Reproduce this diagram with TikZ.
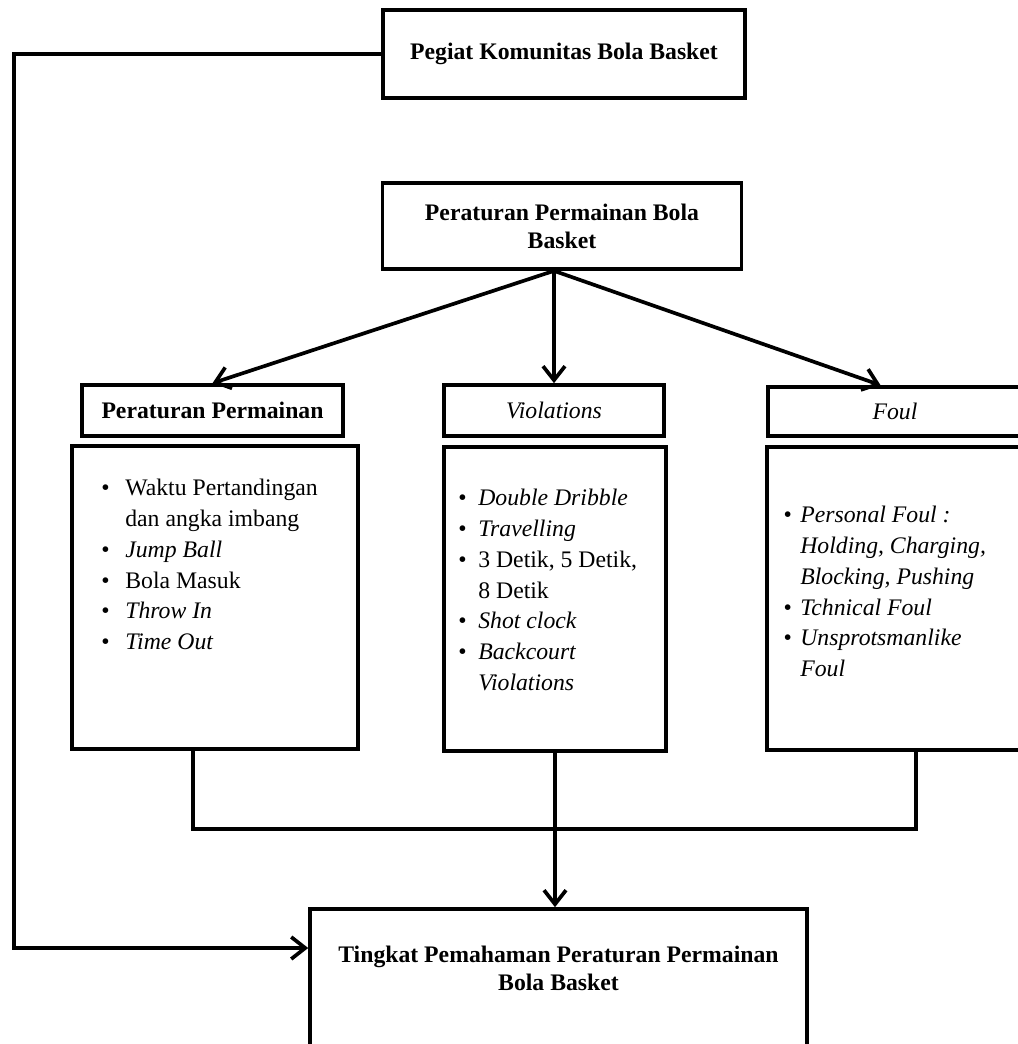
\documentclass[tikz,border=0pt]{standalone}
\usepackage{fontspec}
\setmainfont{Liberation Serif}
\usetikzlibrary{arrows.meta}

\newcommand{\butir}[2]{\makebox[#1][l]{\textbullet}#2}
\newcommand{\lanjut}[2]{\hspace*{#1}#2}

\begin{document}
\begin{tikzpicture}[x=0.02cm, y=-0.02cm,
        kotak/.style={draw, line width=2.1pt, inner sep=0pt},
        judul/.style={align=center, font=\fontsize{13.5}{16}\selectfont\bfseries},
        isi/.style={align=left, inner sep=0pt, anchor=north west, font=\fontsize{13.5}{17.5}\selectfont},
        garis/.style={line width=2.1pt},
        panah/.style={line width=2.1pt, -{Straight Barb[length=2.8mm,width=4.4mm]}}]
        \useasboundingbox (0,0) rectangle (1017,1044);

        \node[kotak, minimum width=7.24cm, minimum height=1.76cm] (pegiat) at (564,54) {};
        \node[judul] (pegiattxt) at (pegiat) {Pegiat Komunitas Bola Basket};

        \node[kotak, minimum width=7.18cm, minimum height=1.72cm] (aturan) at (562,226) {};
        \node[judul] (aturantxt) at (aturan) {Peraturan Permainan Bola\\Basket};

        \node[kotak, minimum width=5.22cm, minimum height=1.02cm] (hdaturan) at (212.5,410.5) {};
        \node[judul] (hdaturantxt) at (hdaturan) {Peraturan Permainan};
        \node[kotak, minimum width=4.4cm, minimum height=1.02cm] (hdviol) at (554,410.5) {};
        \node[judul, font=\fontsize{13.5}{16}\selectfont\itshape] (hdvioltxt) at (hdviol) {Violations};
        \node[kotak, minimum width=5.94cm, minimum height=0.98cm] (hdfoul) at (916.5,411.5) {};
        \node[judul, font=\fontsize{13.5}{16}\selectfont\itshape] (hdfoultxt) at (895,411.5) {Foul};

        \node[kotak, minimum width=5.72cm, minimum height=6.06cm] (ltaturan) at (215,597.5) {};
        \node[isi] (ltaturantxt) at (101,479) {\butir{0.48cm}{Waktu Pertandingan}\\
            \lanjut{0.48cm}{dan angka imbang}\\
            \butir{0.48cm}{\textit{Jump Ball}}\\
            \butir{0.48cm}{Bola Masuk}\\
            \butir{0.48cm}{\textit{Throw In}}\\
            \butir{0.48cm}{\textit{Time Out}}};

        \node[kotak, minimum width=4.44cm, minimum height=6.08cm] (ltviol) at (555,599) {};
        \node[isi] (ltvioltxt) at (458,489) {\butir{0.4cm}{\textit{Double Dribble}}\\
            \butir{0.4cm}{\textit{Travelling}}\\
            \butir{0.4cm}{3 Detik, 5 Detik,}\\
            \lanjut{0.4cm}{8 Detik}\\
            \butir{0.4cm}{\textit{Shot clock}}\\
            \butir{0.4cm}{\textit{Backcourt}}\\
            \lanjut{0.4cm}{\textit{Violations}}};

        \node[kotak, minimum width=5.96cm, minimum height=6.06cm] (ltfoul) at (916,598.5) {};
        \node[isi, font=\fontsize{13.5}{17.5}\selectfont\itshape] (ltfoultxt) at (783,506) {\butir{0.34cm}{Personal Foul :}\\
            \lanjut{0.34cm}{Holding, Charging,}\\
            \lanjut{0.34cm}{Blocking, Pushing}\\
            \butir{0.34cm}{Tchnical Foul}\\
            \butir{0.34cm}{Unsprotsmanlike}\\
            \lanjut{0.34cm}{Foul}};

        \node[kotak, minimum width=9.94cm, minimum height=3.82cm] (hasil) at (558.5,1004.5) {};
        \node[judul] (hasiltxt) at (558.5,968) {Tingkat Pemahaman Peraturan Permainan\\Bola Basket};

        \coordinate (kiri) at (14,948);
        \coordinate (pangkal) at (aturan.south -| hdviol.north);
        \coordinate (sambung) at (555,829);

        \draw[panah] (pegiat.west) -| (kiri) -- (kiri -| hasil.west);
        \draw[panah] (pangkal) -- (hdaturan.north);
        \draw[panah] (pangkal) -- (hdviol.north);
        \draw[panah] (pangkal) -- ([xshift=-0.72cm]hdfoul.north);

        \draw[garis] ([xshift=-0.44cm]ltaturan.south) |- (sambung) -| (ltfoul.south);
        \draw[panah] (ltviol.south) -- (ltviol.south |- hasil.north);
\end{tikzpicture}
\end{document}
